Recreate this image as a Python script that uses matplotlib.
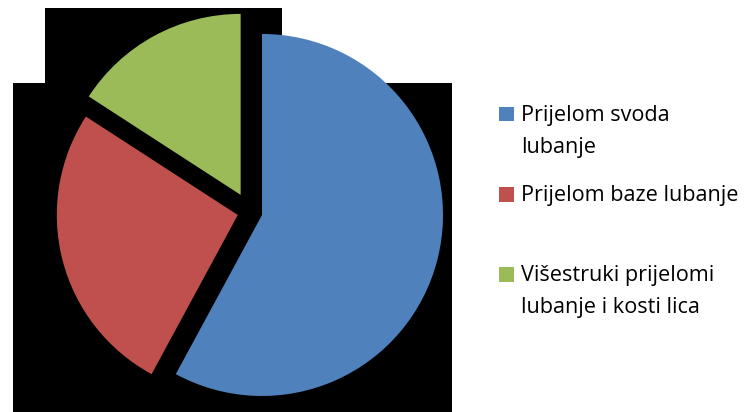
import matplotlib
matplotlib.use('Agg')
import matplotlib.pyplot as plt
from matplotlib.patches import Rectangle

# shares of the fracture types
labels = ['Prijelom svoda\nlubanje', 'Prijelom baze lubanje', 'Višestruki prijelomi\nlubanje i kosti lica']
values = [57.9, 26.25, 15.85]
explode = [0.069, 0.069, 0.107]
colors = ['#4F81BD', '#C0504D', '#9BBB59']

W, H = 756, 412
fig = plt.figure(figsize=(W / 100, H / 100), dpi=100)
fig.patch.set_facecolor('white')


def px_rect(x0, y0, x1, y1, **kw):
    # rectangle in pixel coords measured from the top-left corner
    return Rectangle((x0 / W, 1 - y1 / H), (x1 - x0) / W, (y1 - y0) / H,
                     transform=fig.transFigure, **kw)


# black block behind the pie
fig.patches.append(px_rect(45, 8, 282, 84, facecolor='black', edgecolor='none', zorder=-5))
fig.patches.append(px_rect(13, 83, 452, 412, facecolor='black', edgecolor='none', zorder=-5))

# pie centre at (250, 212) px, radius ~181 px
cx, cy, half = 249.9, 211.9, 199.1
ax = fig.add_axes([(cx - half) / W, (H - cy - half) / H, 2 * half / W, 2 * half / H])
ax.set_zorder(2)
ax.set_facecolor('none')
wedges, _ = ax.pie(values, colors=colors, startangle=90, counterclock=False,
                   explode=explode, wedgeprops=dict(linewidth=0))
for w in wedges:
    w.set_clip_on(False)
ax.set_xlim(-1.1, 1.1)
ax.set_ylim(-1.1, 1.1)
ax.set_aspect('auto')
ax.axis('off')

# legend drawn by hand: square next to first line, 80 px slots
for i, (lab, col) in enumerate(zip(labels, colors)):
    base = 121 + i * 80
    fig.patches.append(px_rect(499, base - 14, 514, base + 0.5, facecolor=col, edgecolor='none', zorder=3))
    for j, line in enumerate(lab.split('\n')):
        fig.text(521 / W, 1 - (base + j * 32.5) / H, line, fontsize=15.6, family='Open Sans',
                 color='black', ha='left', va='baseline')

fig.savefig('out.png', dpi=100, facecolor='white')
